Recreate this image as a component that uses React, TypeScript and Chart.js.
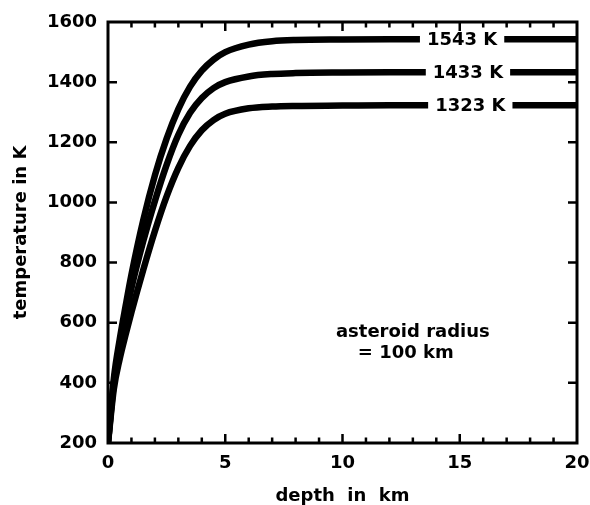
import React, { useEffect, useRef } from 'react';
import { Chart, registerables } from 'chart.js';

Chart.register(...registerables);

// depth below surface (km)
const depthKm = [0, 0.25, 0.5, 0.75, 1, 1.5, 2, 2.5, 3, 3.5, 4, 4.5, 5, 6, 7, 8, 10, 12, 15, 20];
// temperature profiles (K)
const temp1543 = [200, 415, 545, 655, 760, 940, 1090, 1212, 1310, 1385, 1438, 1475, 1500, 1525, 1536, 1540, 1542, 1543, 1543, 1543];
const temp1433 = [200, 400, 520, 620, 715, 870, 1005, 1125, 1225, 1298, 1347, 1380, 1400, 1419, 1427, 1430, 1432, 1433, 1433, 1433];
const temp1323 = [200, 380, 480, 560, 635, 775, 905, 1020, 1115, 1188, 1240, 1274, 1295, 1313, 1319, 1321, 1322, 1323, 1323, 1323];

const series = [temp1543, temp1433, temp1323];
const curveLabels = ['1543 K', '1433 K', '1323 K'];
const labelDepth = [15.1, 15.35, 15.45];

const noteLines = ['asteroid radius', '= 100 km'];
const noteDepth = [13.0, 12.7];
const noteTemp = [553, 483];

const xTitle = 'depth  in  km';
const yTitle = 'temperature in K';

const FONT = "'DejaVu Sans', sans-serif";

export default function App() {
  const ref = useRef<HTMLCanvasElement>(null);

  useEffect(() => {
    document.body.style.margin = '0';
    const canvas = ref.current;
    if (!canvas) return;

    const framePlugin = {
      id: 'framePlugin',
      afterDatasetsDraw(chart: any) {
        const { ctx, chartArea: a, scales } = chart;
        const xs = scales.x;
        const ys = scales.y;
        ctx.save();

        // curve labels with white gaps
        ctx.font = `bold 18px ${FONT}`;
        ctx.textAlign = 'center';
        ctx.textBaseline = 'alphabetic';
        curveLabels.forEach((lab, i) => {
          const s = series[i];
          const px = xs.getPixelForValue(labelDepth[i]);
          const py = ys.getPixelForValue(s[s.length - 1]);
          const w = ctx.measureText(lab).width + 14;
          ctx.fillStyle = '#fff';
          ctx.fillRect(px - w / 2, py - 6, w, 12);
          ctx.fillStyle = '#000';
          ctx.fillText(lab, px, py + 6);
        });

        // annotation
        noteLines.forEach((t, i) => {
          ctx.fillText(t, xs.getPixelForValue(noteDepth[i]), ys.getPixelForValue(noteTemp[i]));
        });

        // frame
        ctx.strokeStyle = '#000';
        ctx.lineWidth = 3;
        ctx.strokeRect(a.left, a.top, a.right - a.left, a.bottom - a.top);

        // ticks
        ctx.lineWidth = 2.5;
        ctx.beginPath();
        for (let v = xs.min + 1; v < xs.max; v += 1) {
          const px = xs.getPixelForValue(v);
          const len = v % 5 === 0 ? 9 : 5.5;
          ctx.moveTo(px, a.bottom);
          ctx.lineTo(px, a.bottom - len);
          ctx.moveTo(px, a.top);
          ctx.lineTo(px, a.top + len);
        }
        for (let v = ys.min + 200; v < ys.max; v += 200) {
          const py = ys.getPixelForValue(v);
          ctx.moveTo(a.left, py);
          ctx.lineTo(a.left + 9, py);
          ctx.moveTo(a.right, py);
          ctx.lineTo(a.right - 9, py);
        }
        ctx.stroke();
        ctx.restore();
      },
    };

    const tickFont = { family: FONT, size: 18, weight: 'bold' as const };

    const chart = new Chart(canvas, {
      type: 'line',
      data: {
        datasets: series.map((s) => ({
          data: depthKm.map((d, j) => ({ x: d, y: s[j] })),
          borderColor: '#000',
          borderWidth: 6.5,
          pointRadius: 0,
          fill: false,
          cubicInterpolationMode: 'monotone' as const,
        })),
      },
      options: {
        animation: false,
        responsive: false,
        events: [],
        layout: { padding: { top: 22, right: 13, left: 0, bottom: 0 } },
        plugins: {
          legend: { display: false },
          tooltip: { enabled: false },
        },
        scales: {
          x: {
            type: 'linear',
            min: 0,
            max: 20,
            ticks: {
              stepSize: 5,
              padding: 10,
              color: '#000',
              font: tickFont,
              maxRotation: 0,
              callback: (v: any) => String(v),
            },
            grid: { display: false, drawTicks: false },
            border: { display: false },
            title: {
              display: true,
              text: xTitle,
              color: '#000',
              font: { ...tickFont, lineHeight: 1 },
              padding: { top: 0, bottom: 0 },
            },
            afterFit: (s: any) => {
              s.height = 62;
              s.paddingLeft = 0;
              s.paddingRight = 0;
            },
          },
          y: {
            type: 'linear',
            min: 200,
            max: 1600,
            ticks: {
              stepSize: 200,
              padding: 11,
              color: '#000',
              font: tickFont,
              callback: (v: any) => String(v),
            },
            grid: { display: false, drawTicks: false },
            border: { display: false },
            title: {
              display: true,
              text: yTitle,
              color: '#000',
              font: { ...tickFont, lineHeight: 1 },
              padding: { top: 12.5, bottom: 0 },
            },
            afterFit: (s: any) => {
              s.width = 108;
              s.paddingTop = 0;
              s.paddingBottom = 0;
            },
          },
        },
      },
      plugins: [framePlugin],
    } as any);

    return () => chart.destroy();
  }, []);

  return (
    <div style={{ width: 590, height: 505, background: '#fff' }}>
      <canvas ref={ref} width={590} height={505} style={{ display: 'block' }} />
    </div>
  );
}
